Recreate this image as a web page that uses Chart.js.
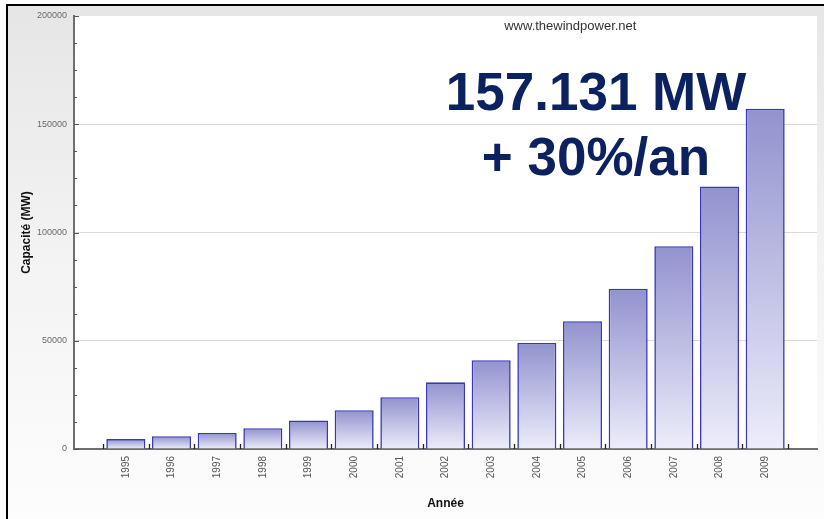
<!DOCTYPE html>
<html>
<head>
<meta charset="utf-8">
<script src="https://cdn.jsdelivr.net/npm/chart.js@4/dist/chart.umd.min.js"></script>
<style>
  html, body { margin: 0; padding: 0; background: #ffffff; width: 824px; height: 519px; overflow: hidden; }
  #frame { position: absolute; left: 6px; top: 4px; right: 0; bottom: 0;
    border-top: 2px solid #000; border-left: 2px solid #000;
    background: linear-gradient(to bottom, #e6e6e6 0%, #f3f3f3 50%, #fdfdfd 100%); }
  #wrap { position: absolute; left: 0; top: 0; width: 824px; height: 519px; }
</style>
</head>
<body>
<div id="frame"></div>
<div id="wrap"><canvas id="c" width="824" height="519"></canvas></div>
<script>
// ---- data ----
const years = [1995, 1996, 1997, 1998, 1999, 2000, 2001, 2002, 2003, 2004, 2005, 2006, 2007, 2008, 2009];
const capacityMW = [4600, 5900, 7400, 9600, 13200, 17900, 23900, 30800, 41000, 49000, 59000, 74000, 93700, 121300, 157131];
const yTickLabels = [0, 50000, 100000, 150000, 200000];
const sourceText = 'www.thewindpower.net';
const headline = ['157.131 MW', '+ 30%/an'];
const xTitle = 'Année';
const yTitle = 'Capacité (MW)';

Chart.defaults.font.family = '"Liberation Sans", Arial, Helvetica, sans-serif';

const plotBg = {
  id: 'plotBg',
  beforeDraw(chart) {
    const { ctx, chartArea: a } = chart;
    ctx.save();
    ctx.fillStyle = '#ffffff';
    ctx.fillRect(a.left, a.top, a.right - a.left, a.bottom - a.top);
    ctx.restore();
  }
};

const innerTicks = {
  id: 'innerTicks',
  afterDatasetsDraw(chart) {
    const { ctx } = chart;
    const xs = chart.scales.x, ys = chart.scales.y;
    ctx.save();
    ctx.strokeStyle = '#222';
    ctx.lineWidth = 1.3;
    // x: marks at category boundaries
    const bounds = years.map(y => y - 0.5).concat([years[years.length - 1] + 0.5]);
    bounds.forEach(v => {
      const px = Math.round(xs.getPixelForValue(v)) + 0.5;
      ctx.beginPath();
      ctx.moveTo(px, ys.bottom);
      ctx.lineTo(px, ys.bottom - 5);
      ctx.stroke();
    });
    // y: major and minor marks inside
    ctx.strokeStyle = '#555';
    ctx.lineWidth = 1;
    ys.ticks.forEach(t => {
      const py = Math.round(ys.getPixelForValue(t.value)) + 0.5;
      const major = yTickLabels.includes(t.value);
      ctx.beginPath();
      ctx.moveTo(xs.left, py);
      ctx.lineTo(xs.left + (major ? 5 : 3), py);
      ctx.stroke();
    });
    ctx.restore();
  }
};

const overlayText = {
  id: 'overlayText',
  afterDraw(chart) {
    const { ctx, chartArea: a } = chart;
    const w = a.right - a.left;
    ctx.save();
    ctx.textAlign = 'center';
    ctx.textBaseline = 'alphabetic';
    ctx.fillStyle = '#333333';
    ctx.font = '13px "Liberation Sans", Arial, sans-serif';
    ctx.fillText(sourceText, a.left + 0.668 * w, a.top + 14);
    ctx.fillStyle = '#0c2160';
    ctx.font = 'bold 53px "Liberation Sans", Arial, sans-serif';
    ctx.fillText(headline[0], a.left + 0.7026 * w, a.top + 94);
    ctx.fillText(headline[1], a.left + 0.7026 * w, a.top + 159);
    ctx.restore();
  }
};

function barGradient(c) {
  const chart = c.chart;
  if (!chart.chartArea || c.type !== 'data') return '#b0b0e0';
  const ys = chart.scales.y;
  const top = ys.getPixelForValue(c.raw.y);
  const base = ys.getPixelForValue(0);
  const g = chart.ctx.createLinearGradient(0, top, 0, base);
  g.addColorStop(0, '#9292cf');
  g.addColorStop(1, '#ededfb');
  return g;
}

new Chart(document.getElementById('c'), {
  type: 'bar',
  data: {
    datasets: [{
      data: years.map((y, i) => ({ x: y, y: capacityMW[i] })),
      backgroundColor: barGradient,
      borderColor: '#3838b4',
      borderWidth: 1.6,
      borderSkipped: 'bottom',
      categoryPercentage: 1,
      barPercentage: 0.855
    }]
  },
  options: {
    responsive: false,
    animation: false,
    events: [],
    layout: { padding: { left: 8, right: 7, top: 16, bottom: 0 } },
    plugins: { legend: { display: false }, tooltip: { enabled: false } },
    scales: {
      x: {
        type: 'linear',
        min: years[0] - 1.135,
        max: years[years.length - 1] + 1.135,
        offset: false,
        afterBuildTicks: s => { s.ticks = years.map(v => ({ value: v })); },
        afterFit: s => { s.height = 70; },
        grid: { display: false, drawTicks: false, offset: false },
        border: { display: true, color: '#6e6e6e', width: 2 },
        ticks: {
          autoSkip: false, minRotation: 90, maxRotation: 90, padding: 7,
          color: '#555555', font: { size: 10 },
          callback: v => String(v)
        },
        title: { display: true, text: xTitle, color: '#111', font: { size: 12, weight: 'bold' }, padding: { top: 0, bottom: 8 } }
      },
      y: {
        min: 0, max: 200000,
        afterFit: s => { s.width = 66; },
        ticks: {
          stepSize: 12500, autoSkip: false, padding: 7,
          color: '#6a6a6a', font: { size: 9 },
          callback: v => (yTickLabels.includes(v) ? String(v) : '')
        },
        grid: {
          drawTicks: false,
          color: c => (c.tick && yTickLabels.includes(c.tick.value) && c.tick.value !== 0 && c.tick.value !== 200000) ? '#d9d9d9' : 'rgba(0,0,0,0)',
          lineWidth: 1
        },
        border: { display: true, color: '#6e6e6e', width: 2 },
        title: { display: true, text: yTitle, color: '#111', font: { size: 12, weight: 'bold' }, padding: { top: 11, bottom: 0 } }
      }
    }
  },
  plugins: [plotBg, innerTicks, overlayText]
});
</script>
</body>
</html>
